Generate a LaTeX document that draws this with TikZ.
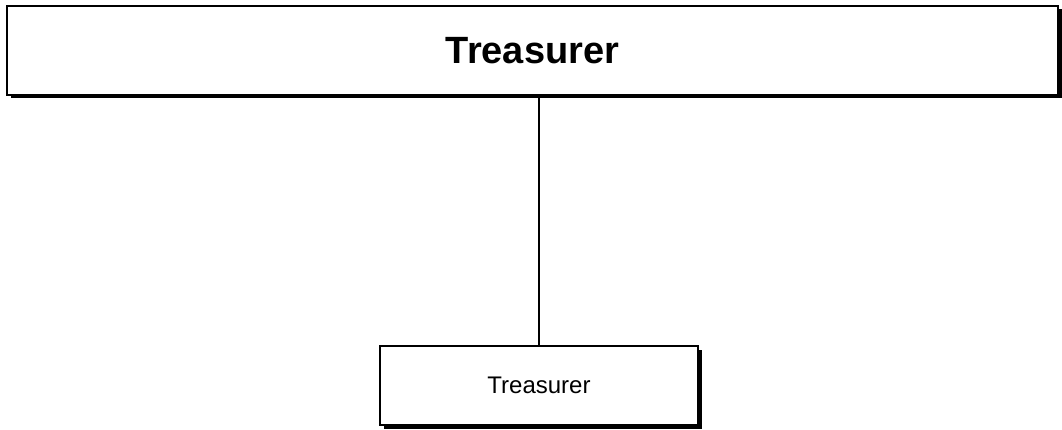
\documentclass[tikz,border=0pt]{standalone}
\usepackage{fontspec}
\setmainfont{Liberation Sans}
\usetikzlibrary{shadows, positioning}

\begin{document}
\begin{tikzpicture}[x=1pt, y=-1pt,
    officebox/.style={draw=black, line width=1.3pt, fill=white,
        drop shadow={shadow xshift=3.5pt, shadow yshift=-3.5pt, fill=black, opacity=1},
        inner sep=0pt}]

\useasboundingbox (0, 0) rectangle (1062, 430);

\node[officebox, minimum width=1051pt, minimum height=89pt,
      font=\fontsize{38}{44}\selectfont\bfseries] (head) at (532.5, 50.5) {Treasurer};
\node[officebox, minimum width=318pt, minimum height=79pt,
      font=\fontsize{24}{28}\selectfont] (post) at (539, 385.5) {Treasurer};

\draw[line width=1.3pt] (post.north) -- (post.north |- head.south);
\end{tikzpicture}
\end{document}
